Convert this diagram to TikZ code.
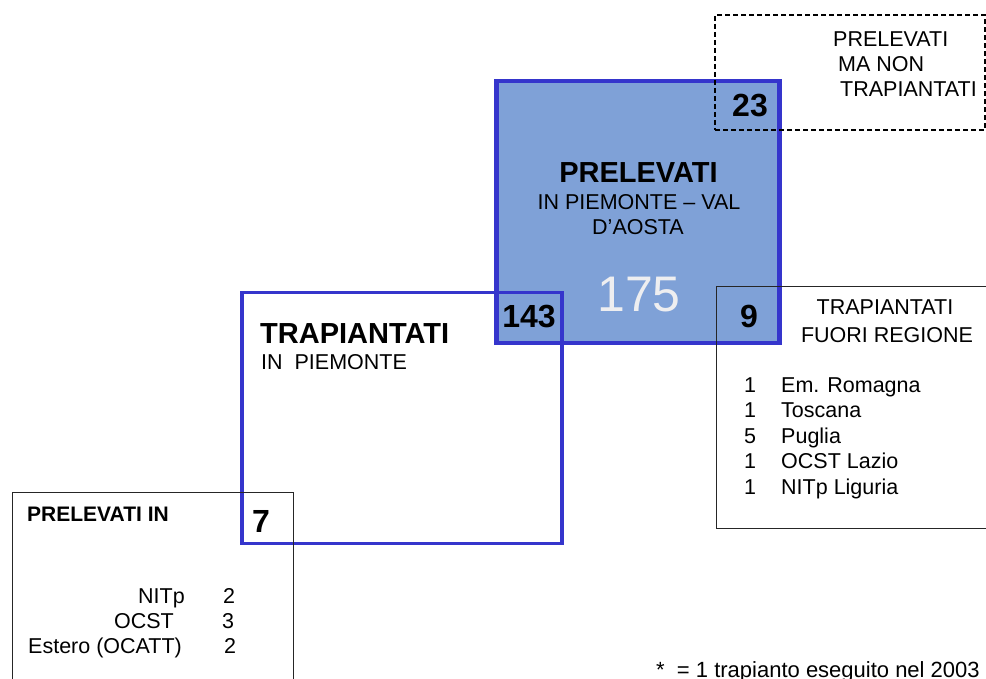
\documentclass[tikz,border=0pt]{standalone}
\usepackage{fontspec}
\setmainfont{Liberation Sans}
\definecolor{boxblue}{RGB}{127,161,215}
\definecolor{edgeblue}{RGB}{53,53,204}
\definecolor{light}{RGB}{238,238,240}
\begin{document}
\begin{tikzpicture}[x=1pt,y=-1pt,
  txt/.style={inner sep=0pt,font=\fontsize{21.5}{25}\selectfont},
  btxt/.style={inner sep=0pt,font=\fontsize{29}{34}\selectfont\bfseries},
  stxt/.style={inner sep=0pt,font=\fontsize{21}{25}\selectfont\bfseries},
  numtxt/.style={inner sep=0pt,font=\fontsize{32}{38}\selectfont\bfseries},
  prelbox/.style={draw=edgeblue,fill=boxblue,line width=4.5pt,inner sep=0pt},
  trapbox/.style={draw=edgeblue,line width=3.5pt,inner sep=0pt},
  dashbox/.style={draw=black,line width=1.5pt,dash pattern=on 5pt off 3pt,inner sep=0pt},
  thinline/.style={draw=black!85,line width=1pt}]
\useasboundingbox (0,0) rectangle (986,679);
\clip (0,0) rectangle (986,679);
% boxes
\node[prelbox,minimum width=283pt,minimum height=262pt] (prel) at (638,212) {};
\node[trapbox,minimum width=320pt,minimum height=251pt] (trap) at (402,418) {};
\node[dashbox,minimum width=270pt,minimum height=115pt] (dash) at (850,72.5) {};
\coordinate (rb1) at (995,287);
\coordinate (rb2) at (716,287);
\coordinate (rb3) at (716,528);
\coordinate (rb4) at (995,528);
\draw[thinline] (rb1) -- (rb2) -- (rb3) -- (rb4);
\coordinate (lb1) at (12,690);
\coordinate (lb2) at (12,492);
\coordinate (lb3) at (293,492);
\coordinate (lb4) at (293,690);
\draw[thinline] (lb1) -- (lb2) -- (lb3) -- (lb4);
% dashed box text
\node[txt,anchor=base west] (d1) at (833,47) {PRELEVATI};
\node[txt,anchor=base west] (d2) at (838,72) {MA NON};
\node[txt,anchor=base west] (d3) at (840,97) {TRAPIANTATI};
\node[numtxt,anchor=base] (n23) at (750,117) {23};
% big box text
\node[btxt,anchor=base] (p1) at (638.5,183) {PRELEVATI};
\node[txt,anchor=base] (p2) at (639,210) {IN PIEMONTE – VAL};
\node[txt,anchor=base] (p3) at (638,235) {D’AOSTA};
\node[inner sep=0pt,anchor=base,text=light,font=\fontsize{50}{56}\selectfont] (n175) at (639,312) {175};
\node[numtxt,anchor=base] (n143) at (529,327) {143};
\node[numtxt,anchor=base] (n9) at (749,327) {9};
% trapiantati box text
\node[btxt,anchor=base west] (t1) at (260,343) {TRAPIANTATI};
\node[txt,anchor=base west] (t2) at (261,369) {IN\ \ PIEMONTE};
% right box text
\node[txt,anchor=base] (r1) at (885,315) {TRAPIANTATI};
\node[txt,anchor=base] (r2) at (887,342) {FUORI REGIONE};
\node[txt,anchor=base] (rn1) at (750,392) {1};
\node[txt,anchor=base west] (ri1) at (781,392) {Em. Romagna};
\node[txt,anchor=base] (rn2) at (750,417.5) {1};
\node[txt,anchor=base west] (ri2) at (781,417.5) {Toscana};
\node[txt,anchor=base] (rn3) at (750,443) {5};
\node[txt,anchor=base west] (ri3) at (781,443) {Puglia};
\node[txt,anchor=base] (rn4) at (750,468.5) {1};
\node[txt,anchor=base west] (ri4) at (781,468.5) {OCST Lazio};
\node[txt,anchor=base] (rn5) at (750,494) {1};
\node[txt,anchor=base west] (ri5) at (781,494) {NITp Liguria};
% left box text
\node[stxt,anchor=base west] (l0) at (27,521) {PRELEVATI IN};
\node[numtxt,anchor=base] (n7) at (261,532) {7};
\node[txt,anchor=base east] (l1) at (185,603) {NITp};
\node[txt,anchor=base east] (l2) at (174,628) {OCST};
\node[txt,anchor=base west] (l3) at (28,653) {Estero (OCATT)};
\node[txt,anchor=base] (ln1) at (229,603) {2};
\node[txt,anchor=base] (ln2) at (228,628) {3};
\node[txt,anchor=base] (ln3) at (230,653) {2};
% footnote
\node[inner sep=0pt,font=\fontsize{22}{26}\selectfont,anchor=base west] (foot) at (656,677) {*\ \ = 1 trapianto eseguito nel 2003};
\end{tikzpicture}
\end{document}
